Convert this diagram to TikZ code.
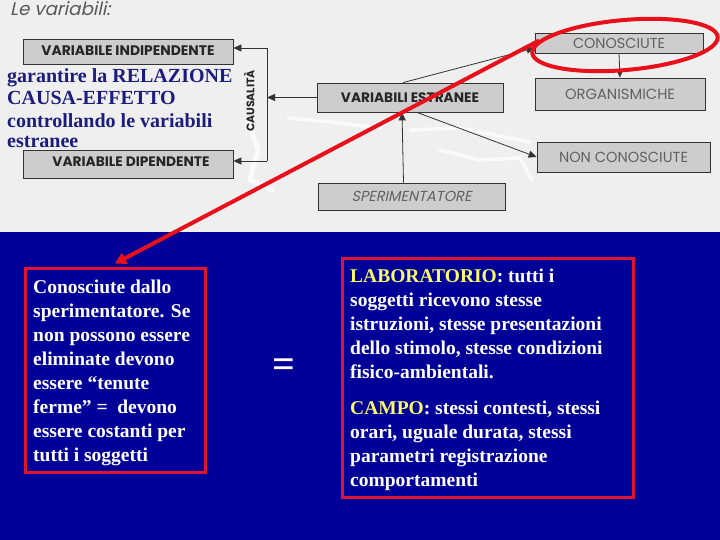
\documentclass[tikz,border=0pt]{standalone}
\usepackage{fontspec}
\usepackage{graphicx}
\setmainfont{Liberation Serif}
\newfontfamily\gothic{Poppins}
\newfontfamily\gothicsl[FakeSlant=0.22]{Poppins}
\usetikzlibrary{arrows.meta,shapes.geometric}
\definecolor{scangray}{RGB}{239,239,239}
\definecolor{boxgray}{RGB}{205,205,205}
\definecolor{bgblue}{RGB}{0,0,153}
\definecolor{navy}{RGB}{28,28,125}
\definecolor{redline}{RGB}{232,16,26}
\definecolor{redframe}{RGB}{222,20,50}
\definecolor{paleyellow}{RGB}{250,250,100}
\newcommand\fitw[2]{\resizebox{#1pt}{!}{#2}}
\begin{document}
\begin{tikzpicture}[x=1pt,y=-1pt,
  gbox/.style={draw=black!80, fill=boxgray, line width=0.8pt, inner sep=0pt, rectangle},
  boldlab/.style={text=black!85},
  thinlab/.style={text=black!62},
  arr/.style={draw=black!80, line width=0.8pt, -{Triangle[length=8pt,width=7pt]}},
  plainline/.style={draw=black!80, line width=0.8pt},
  redarrow/.style={draw=redline, line width=4pt, -{Triangle[length=11pt,width=12pt]}},
  redbox/.style={draw=redframe, line width=3pt, inner sep=0pt, rectangle},
  toptext/.style={anchor=base west, inner sep=0pt, text=navy, font=\bfseries\fontsize{20}{24}\selectfont},
  bluetext/.style={anchor=base west, inner sep=0pt, text=white, font=\bfseries\fontsize{19.5}{24}\selectfont},
  smudge/.style={draw=white, opacity=0.7, line cap=round, line join=round}
]
\useasboundingbox (0,0) rectangle (720,540);
% backgrounds
\fill[scangray] (0,0) rectangle (720,232);
\fill[bgblue] (0,232) rectangle (720,540);

% white erased smudges in the scan
\draw[smudge, line width=5pt] (248,122) -- (258,150) -- (250,180) -- (272,190);
\draw[smudge, line width=3.5pt] (288,118) -- (330,122) -- (380,128) -- (392,118);
\draw[smudge, line width=3.5pt] (410,130) -- (460,128) -- (500,136) -- (530,142);
\draw[smudge, line width=3.5pt] (440,150) -- (480,160) -- (520,158) -- (532,180);

% title of the scan
\node[anchor=base west, inner sep=0pt, text=black!65] (title) at (10,16) {\fitw{100}{\gothicsl Le variabili:}};

% boxes of the scan
\node[gbox, minimum width=210, minimum height=25] (indep) at (128,51.5) {};
\node[boldlab] at (128,50.5) {\fitw{173}{\gothic\bfseries VARIABILE INDIPENDENTE}};
\node[gbox, minimum width=210, minimum height=28] (dep) at (128,164) {};
\node[boldlab] at (131,162) {\fitw{157}{\gothic\bfseries VARIABILE DIPENDENTE}};
\node[gbox, minimum width=186, minimum height=29] (estr) at (410,97.5) {\fitw{138}{\gothic\bfseries\color{black!85}VARIABILI ESTRANEE}};
\node[gbox, minimum width=168, minimum height=20] (conosc) at (619,43) {\fitw{92}{\gothic\color{black!62}CONOSCIUTE}};
\node[gbox, minimum width=170, minimum height=32] (organ) at (620,94) {\fitw{110}{\gothic\color{black!62}ORGANISMICHE}};
\node[gbox, minimum width=173, minimum height=30] (nonc) at (623.5,157) {\fitw{129}{\gothic\color{black!62}NON CONOSCIUTE}};
\node[gbox, minimum width=187, minimum height=27] (sper) at (411.5,196.5) {\fitw{120}{\gothicsl\color{black!62}SPERIMENTATORE}};
\node[boldlab, rotate=90] (caus) at (249,101) {\fitw{62}{\gothic\bfseries CAUSALITÀ}};

% connectors of the scan
\coordinate (vtop) at (267,48);
\coordinate (vbot) at (267,161);
\draw[plainline] (vtop) -- (vbot);
\draw[arr] (vtop) -- (indep.east |- vtop);
\draw[arr] (vbot) -- (dep.east |- vbot);
\draw[arr] (estr.west) -- (vtop |- estr.west);
\draw[arr] ([xshift=-7pt]estr.north) -- ([yshift=-5pt]conosc.west);
\draw[arr] ([xshift=7pt]estr.south) -- (nonc.west);
\draw[arr] ([xshift=-8pt]sper.north) -- ([xshift=-8pt]estr.south);
\draw[arr] (conosc.south) -- (organ.north);

% blue overlay text on the scan
\node[toptext] (t1) at (7,83) {garantire la RELAZIONE};
\node[toptext] (t2) at (7,105) {CAUSA-EFFETTO};
\node[toptext] (t3) at (7,128) {controllando le variabili};
\node[toptext] (t4) at (7,148) {estranee};

% red frames
\node[redbox, minimum width=180, minimum height=204] (lbox) at (115,370) {};
\node[redbox, minimum width=291, minimum height=239] (rbox) at (487.5,377.5) {};

% red ellipse and arrow
\node[draw=redline, line width=4pt, ellipse, minimum width=186, minimum height=50, inner sep=0pt, rotate=5] (ell) at (625,45) {};
\draw[redarrow] (ell.172) -- ([yshift=3pt]lbox.north);

% left frame text
\node[bluetext] (l1) at (33,293) {Conosciute dallo};
\node[bluetext] (l2) at (33,317) {sperimentatore. Se};
\node[bluetext] (l3) at (33,341) {non possono essere};
\node[bluetext] (l4) at (33,365) {eliminate devono};
\node[bluetext] (l5) at (33,389) {essere “tenute};
\node[bluetext] (l6) at (33,413) {ferme” =~ devono};
\node[bluetext] (l7) at (33,437) {essere costanti per};
\node[bluetext] (l8) at (33,461) {tutti i soggetti};

% equals sign
\node[text=white, font=\bfseries\fontsize{40}{40}\selectfont, inner sep=0pt] (eq) at (284,368) {=};

% right frame text
\node[bluetext] (r1) at (350,282) {\textcolor{paleyellow}{LABORATORIO}: tutti i};
\node[bluetext] (r2) at (350,306) {soggetti ricevono stesse};
\node[bluetext] (r3) at (350,330) {istruzioni, stesse presentazioni};
\node[bluetext] (r4) at (350,354) {dello stimolo, stesse condizioni};
\node[bluetext] (r5) at (350,378) {fisico-ambientali.};
\node[bluetext] (r6) at (350,414) {\textcolor{paleyellow}{CAMPO}: stessi contesti, stessi};
\node[bluetext] (r7) at (350,438) {orari, uguale durata, stessi};
\node[bluetext] (r8) at (350,462) {parametri registrazione};
\node[bluetext] (r9) at (350,486) {comportamenti};
\end{tikzpicture}
\end{document}
